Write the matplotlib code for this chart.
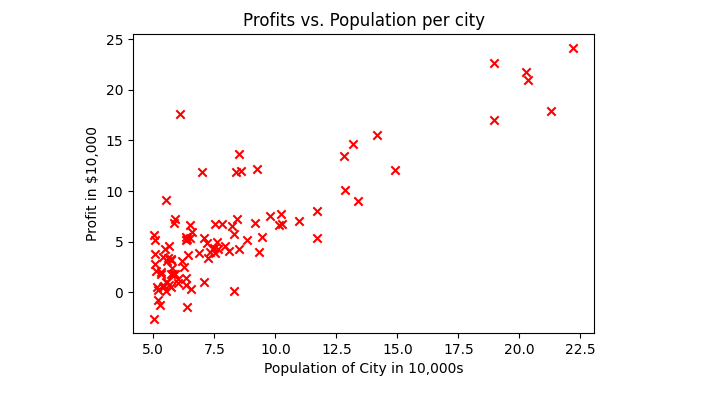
import matplotlib
matplotlib.use("Agg")
import matplotlib.pyplot as plt

population = [6.1101, 5.5277, 8.5186, 7.0032, 5.8598, 8.3829, 7.4764, 8.5781, 6.4862, 5.0546,
              5.7107, 14.164, 5.734, 8.4084, 5.6407, 5.3794, 6.3654, 5.1301, 6.4296, 7.0708,
              6.1891, 20.27, 5.4901, 6.3261, 5.5649, 18.945, 12.828, 10.957, 13.176, 22.203,
              5.2524, 6.5894, 9.2482, 5.8918, 8.2111, 7.9334, 8.0959, 5.6063, 12.836, 6.3534,
              5.4069, 6.8825, 11.708, 5.7737, 7.8247, 7.0931, 5.0702, 5.8014, 11.7, 5.5416,
              7.5402, 5.3077, 7.4239, 7.6031, 6.3328, 6.3589, 6.2742, 5.6397, 9.3102, 9.4536,
              8.8254, 5.1793, 21.279, 14.908, 18.959, 7.2182, 8.2951, 10.236, 5.4994, 20.341,
              10.136, 7.3345, 6.0062, 7.2259, 5.0269, 6.5479, 7.5386, 5.0365, 10.274, 5.1077,
              5.7292, 5.1884, 6.3557, 9.7687, 6.5159, 8.5172, 9.1802, 6.002, 5.5204, 5.0594,
              5.7077, 7.6366, 5.8707, 5.3054, 8.2934, 13.394, 5.4369]
profit = [17.592, 9.1302, 13.662, 11.854, 6.8233, 11.886, 4.3483, 12.0, 6.5987, 3.8166,
          3.2522, 15.505, 3.1551, 7.2258, 0.71618, 3.5129, 5.3048, 0.56077, 3.6518, 5.3893,
          3.1386, 21.767, 4.263, 5.1875, 3.0825, 22.638, 13.501, 7.0467, 14.692, 24.147,
          -1.22, 5.9966, 12.134, 1.8495, 6.5426, 4.5623, 4.1164, 3.3928, 10.117, 5.4974,
          0.55657, 3.9115, 5.3854, 2.4406, 6.7318, 1.0463, 5.1337, 1.844, 8.0043, 1.0179,
          6.7504, 1.8396, 4.2885, 4.9981, 1.4233, -1.4211, 2.4756, 4.6042, 3.9624, 5.4141,
          5.1694, -0.74279, 17.929, 12.054, 17.054, 4.8852, 5.7442, 7.7754, 1.0173, 20.992,
          6.6799, 4.0259, 1.2784, 3.3411, -2.6807, 0.29678, 3.8845, 5.7014, 6.7526, 2.0576,
          0.47953, 0.20421, 0.67861, 7.5435, 5.3436, 4.2415, 6.7981, 0.92695, 0.152, 2.8214,
          1.8451, 4.2959, 7.2029, 1.9869, 0.14454, 9.0551, 0.61705]

fig = plt.figure(figsize=(7.04, 3.97), dpi=100)
ax = fig.add_axes([0.189, 0.161, 0.655, 0.753])
ax.scatter(population, profit, marker='x', c='r')
ax.set_title("Profits vs. Population per city")
ax.set_xlabel("Population of City in 10,000s")
ax.set_ylabel("Profit in $10,000")
fig.savefig("out.png", dpi=100)
